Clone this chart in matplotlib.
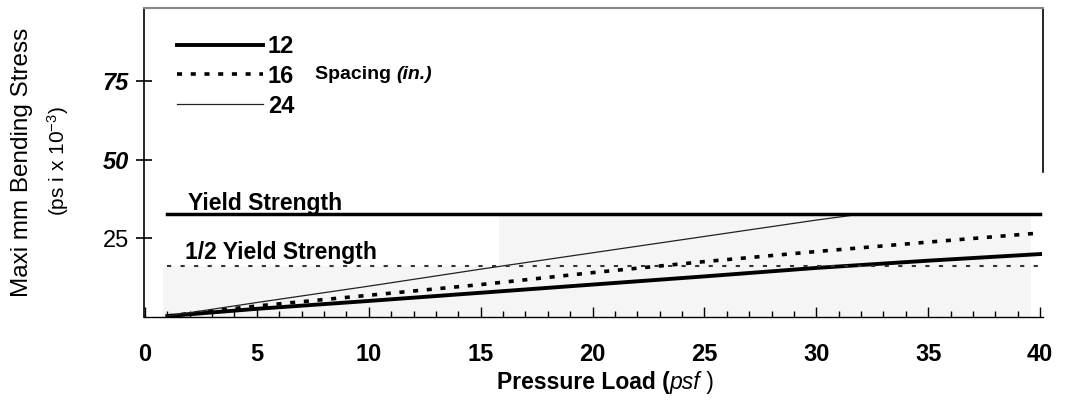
import matplotlib
matplotlib.use('Agg')
import matplotlib.pyplot as plt
from matplotlib.ticker import MultipleLocator

plt.rcParams['font.family'] = ['Liberation Sans', 'DejaVu Sans']
plt.rcParams['mathtext.fontset'] = 'custom'
plt.rcParams['mathtext.rm'] = 'Liberation Sans'
plt.rcParams['mathtext.it'] = 'Liberation Sans:italic'
plt.rcParams['mathtext.bf'] = 'Liberation Sans:bold'

# values (pressure in psf, stress in ksi)
pressure = [1, 5, 10, 15, 20, 25, 30, 35, 40]
stress_12 = [0.3, 2.6, 5.1, 7.7, 10.3, 12.9, 15.6, 17.9, 20.0]
stress_16 = [0.3, 3.5, 6.9, 10.3, 14.1, 17.6, 20.8, 23.8, 26.7]
# the 24 in. curve stops where it meets the yield line
pressure_24 = [1, 5, 10, 15, 20, 25, 30, 32]
stress_24 = [0.3, 4.6, 9.8, 15.2, 20.4, 25.6, 30.8, 32.7]

yield_strength = 32.7
half_yield = yield_strength / 2

spacings = ['12', '16', '24']
x_ticks = [0, 5, 10, 15, 20, 25, 30, 35, 40]
y_ticks = [25, 50, 75]

fig = plt.figure(figsize=(10.65, 4.01), dpi=100)
ax = fig.add_axes([0.1352, 0.2095, 0.8441, 0.7705])

# light grey scan background
shade = '#f5f5f5'
ax.fill_between([0.8, 39.6], 0, half_yield, color=shade, lw=0, zorder=0)
ax.fill_between([15.8, 39.6], 0, yield_strength, color=shade, lw=0, zorder=0)

l12, = ax.plot(pressure, stress_12, color='black', lw=2.8, label=spacings[0])
l16, = ax.plot(pressure, stress_16, color='black', lw=2.6, ls=(0, (1.4, 2.4)),
               label=spacings[1])
l24, = ax.plot(pressure_24, stress_24, color='#222222', lw=0.9, label=spacings[2])

ax.plot([pressure[0], pressure[-1]], [yield_strength] * 2, color='black', lw=2.5)
ax.plot([pressure[0], pressure[-1]], [half_yield] * 2, color='#333333', lw=1.5,
        ls=(0, (2, 4.5)))

ax.text(1.9, 34.0, 'Yield Strength', fontsize=16.5, weight='bold',
        va='baseline')
ax.text(1.8, 18.5, '1/2 Yield Strength', fontsize=16.5, weight='bold',
        va='baseline')

leg = ax.legend(handles=[l12, l16, l24], loc='upper left',
                bbox_to_anchor=(0.0367, 0.913), frameon=False,
                prop={'weight': 'bold', 'size': 17}, handlelength=3.65,
                handletextpad=0.2, labelspacing=0.29, borderpad=0,
                borderaxespad=0)

t = ax.text(0.19, 0.785, 'Spacing ', transform=ax.transAxes, fontsize=14,
            weight='bold', va='center')
ax.annotate('(in.)', xy=(1, 0), xycoords=t, va='bottom', fontsize=14,
            weight='bold', style='italic')

ax.set_xlim(-0.045, 40.13)
ax.set_ylim(0, 98.2)

ax.set_xticks(x_ticks)
ax.xaxis.set_minor_locator(MultipleLocator(1))
ax.tick_params(axis='x', which='major', direction='in', length=7, width=1,
               pad=19, labelsize=17)
ax.tick_params(axis='x', which='minor', direction='in', length=4, width=1)
for lbl in ax.get_xticklabels():
    lbl.set_fontweight('bold')

ax.set_yticks(y_ticks)
ax.tick_params(axis='y', direction='inout', length=12, width=1.2, pad=5,
               labelsize=17)
for lbl in ax.get_yticklabels():
    if lbl.get_text() != '25':
        lbl.set_fontweight('bold')
        lbl.set_fontstyle('italic')

ax.spines['top'].set_color('#888888')
ax.spines['top'].set_linewidth(1.5)
ax.spines['left'].set_linewidth(1.2)
ax.spines['bottom'].set_linewidth(1.0)
ax.spines['right'].set_linewidth(1.2)
ax.spines['right'].set_bounds(46, 98.2)

# x axis title, built piece by piece for the italic units
t1 = fig.text(497 / 1065, 1 - 382 / 401, 'Pressure Load (', fontsize=16.5,
              weight='bold', ha='left', va='center')
t2 = ax.annotate('psf', xy=(1, 0), xycoords=t1, va='bottom', fontsize=16.5,
                 style='italic', annotation_clip=False)
ax.annotate(' )', xy=(1, 0), xycoords=t2, va='bottom', fontsize=16.5,
            annotation_clip=False)

fig.text(22 / 1065, 1 - 162 / 401, 'Maxi mm Bending Stress', fontsize=17.5,
         rotation=90, ha='center', va='center')
fig.text(58 / 1065, 1 - 161 / 401, '(ps i x $10^{-3}$)', fontsize=15,
         rotation=90, ha='center', va='center')

fig.savefig('out.png', dpi=100)
